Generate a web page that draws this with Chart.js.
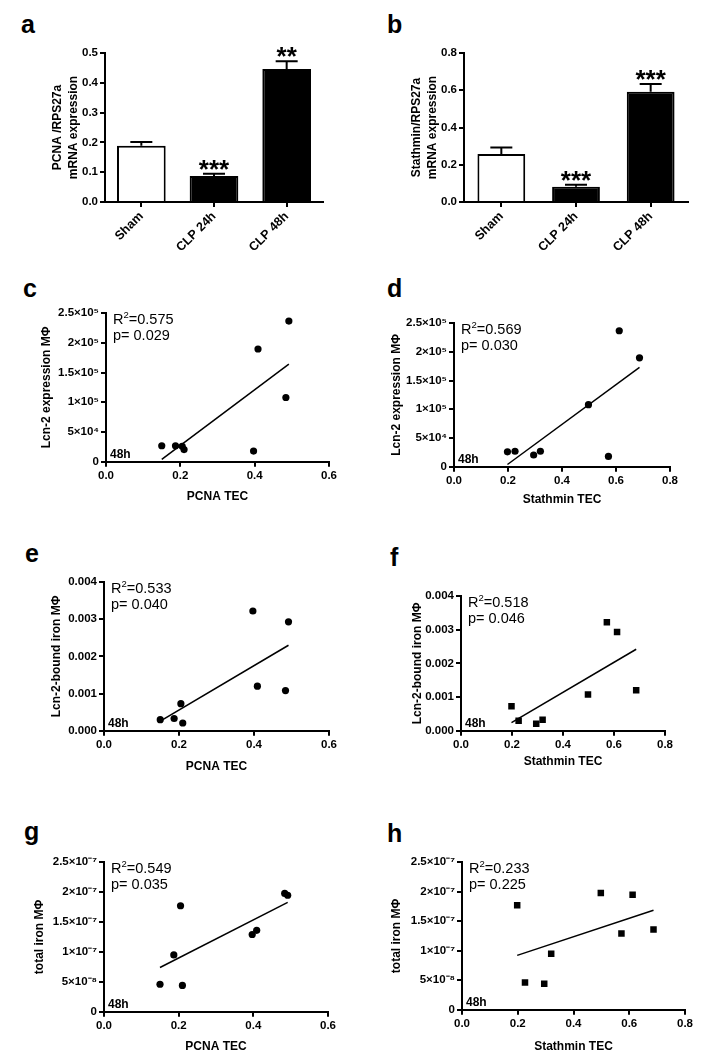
<!DOCTYPE html>
<html>
<head>
<meta charset="utf-8">
<script src="https://cdn.jsdelivr.net/npm/chart.js@4.4.0/dist/chart.umd.min.js"></script>
<style>
  body { margin: 0; background: #fff; width: 715px; height: 1063px; position: relative; overflow: hidden; }
  canvas { position: absolute; }
  .lbl { position: absolute; font: bold 25px "Liberation Sans", Arial, sans-serif; line-height: 1; color: #000; }
</style>
</head>
<body>
<div class="lbl" style="left:21px;top:12px">a</div>
<div class="lbl" style="left:387px;top:12px">b</div>
<div class="lbl" style="left:23px;top:276px">c</div>
<div class="lbl" style="left:387px;top:276px">d</div>
<div class="lbl" style="left:25px;top:541px">e</div>
<div class="lbl" style="left:390px;top:545px">f</div>
<div class="lbl" style="left:24px;top:819px">g</div>
<div class="lbl" style="left:387px;top:821px">h</div>

<canvas id="cA"></canvas>
<canvas id="cB"></canvas>
<canvas id="cC"></canvas>
<canvas id="cD"></canvas>
<canvas id="cE"></canvas>
<canvas id="cF"></canvas>
<canvas id="cG"></canvas>
<canvas id="cH"></canvas>

<script>
//-- bar panels (a, b) ---->
var groups = ['Sham', 'CLP 24h', 'CLP 48h'];
var pcnaMean = [0.189, 0.087, 0.446];
var pcnaSem = [0.012, 0.008, 0.026];
var pcnaStars = ['', '***', '**'];
var stathMean = [0.258, 0.082, 0.592];
var stathSem = [0.034, 0.010, 0.042];
var stathStars = ['', '***', '***'];

//-- 48h animals, same order in every scatter ---->
var pcnaTEC = [0.150, 0.187, 0.205, 0.210, 0.397, 0.409, 0.484, 0.492];
var stathminTEC = [0.226, 0.320, 0.198, 0.295, 0.572, 0.687, 0.498, 0.612];
var lcn2Expr = [27000, 27000, 26000, 20500, 18000, 189500, 108000, 236500];
var lcn2Iron = [0.00030, 0.00033, 0.00073, 0.00021, 0.00322, 0.00120, 0.00108, 0.00293];
var totalIron = [4.6e-8, 9.5e-8, 1.77e-7, 4.4e-8, 1.29e-7, 1.36e-7, 1.975e-7, 1.945e-7];

//-- ticks ---->
var pcnaTicks = [0, 0.2, 0.4, 0.6];
var stathTicks = [0, 0.2, 0.4, 0.6, 0.8];
var lcn2Ticks = [0, 5e4, 1e5, 1.5e5, 2e5, 2.5e5];
var lcn2Labels = ['0', '5\u00d710\u2074', '1\u00d710\u2075', '1.5\u00d710\u2075', '2\u00d710\u2075', '2.5\u00d710\u2075'];
var boundTicks = [0, 0.001, 0.002, 0.003, 0.004];
var boundLabels = ['0.000', '0.001', '0.002', '0.003', '0.004'];
var ironTicks = [0, 5e-8, 1e-7, 1.5e-7, 2e-7, 2.5e-7];
var ironLabels = ['0', '5\u00d710\u207b\u2078', '1\u00d710\u207b\u2077', '1.5\u00d710\u207b\u2077', '2\u00d710\u207b\u2077', '2.5\u00d710\u207b\u2077'];

//-- regression lines ---->
var fitC = [[0.150, 4000], [0.492, 164000]];
var fitD = [[0.198, 4000], [0.687, 173000]];
var fitE = [[0.150, 0.00026], [0.492, 0.00230]];
var fitF = [[0.198, 0.00024], [0.687, 0.00242]];
var fitG = [[0.150, 7.4e-8], [0.492, 1.825e-7]];
var fitH = [[0.198, 9.2e-8], [0.687, 1.685e-7]];

var statsC = ['0.575', '0.029'];
var statsD = ['0.569', '0.030'];
var statsE = ['0.533', '0.040'];
var statsF = ['0.518', '0.046'];
var statsG = ['0.549', '0.035'];
var statsH = ['0.233', '0.225'];

var FAM = '"Liberation Sans", Arial, sans-serif';
Chart.defaults.font.family = FAM;
Chart.defaults.color = '#000';

//-- put a canvas so the plot area lands on the box ---->
function place(cv, box, xH, padR) {
    cv.width = 100 + (box.x1 - box.x0) + padR;
    cv.height = 12 + (box.y1 - box.y0) + xH + 2;
    cv.style.left = (box.x0 - 100) + 'px';
    cv.style.top = (box.y0 - 12) + 'px';
}

function axisGrid() {
    return { display: true, drawOnChartArea: false, color: '#000', lineWidth: 2, tickLength: 5 };
}

//-------------------------------- bar chart with error bars ---->
function barPanel(id, box, yMax, yStep, yTitle, mean, sem, stars, barPct) {
    var cv = document.getElementById(id);
    place(cv, box, 60, 10);
    var errBars = {
        id: 'errBars',
        afterDatasetsDraw: function (chart) {
            var ctx = chart.ctx, y = chart.scales.y;
            var bars = chart.getDatasetMeta(0).data;
            ctx.save();
            ctx.strokeStyle = '#000';
            ctx.fillStyle = '#000';
            ctx.lineWidth = 2;
            bars.forEach(function (bar, i) {
                var top = y.getPixelForValue(mean[i] + sem[i]);
                ctx.beginPath();
                ctx.moveTo(bar.x, bar.y);
                ctx.lineTo(bar.x, top);
                ctx.moveTo(bar.x - 11, top);
                ctx.lineTo(bar.x + 11, top);
                ctx.stroke();
                if (stars[i]) {
                    ctx.font = 'bold 26px ' + FAM;
                    ctx.textAlign = 'center';
                    ctx.textBaseline = 'alphabetic';
                    // glyph bottom sits a few px above the cap
                    var m = ctx.measureText(stars[i]);
                    ctx.fillText(stars[i], bar.x, top - 4 - m.actualBoundingBoxDescent);
                }
            });
            ctx.restore();
        }
    };
    new Chart(cv, {
        type: 'bar',
        data: {
            labels: groups,
            datasets: [{
                data: mean,
                backgroundColor: ['#ffffff', '#000000', '#000000'],
                borderColor: '#000',
                borderWidth: 2,
                barPercentage: barPct,
                categoryPercentage: 1
            }]
        },
        options: {
            responsive: false,
            animation: false,
            layout: { padding: { top: 12, right: 10, bottom: 2, left: 0 } },
            plugins: { legend: { display: false }, tooltip: { enabled: false } },
            scales: {
                x: {
                    grid: Object.assign(axisGrid(), { offset: false }),
                    border: { color: '#000', width: 2 },
                    ticks: { font: { size: 12.5, weight: 'bold' }, minRotation: 45, maxRotation: 45, padding: 2 },
                    afterFit: function (s) { s.height = 60; }
                },
                y: {
                    min: 0, max: yMax,
                    grid: axisGrid(),
                    border: { color: '#000', width: 2 },
                    ticks: { stepSize: yStep, font: { size: 11.5, weight: 'bold' }, padding: 2,
                        callback: function (v) { return v.toFixed(1); } },
                    title: { display: true, text: yTitle, font: { size: 12, weight: 'bold', lineHeight: '16px' },
                        padding: { top: 45, bottom: 0 } },
                    afterFit: function (s) { s.width = 100; }
                }
            }
        },
        plugins: [errBars]
    });
}

//-------------------------------- scatter with fit line ---->
function scatterPanel(id, box, c) {
    var cv = document.getElementById(id);
    var xH = c.xGap + 7.2;
    place(cv, box, xH, 14);
    var notes = {
        id: 'notes',
        afterDraw: function (chart) {
            var a = chart.chartArea, ctx = chart.ctx;
            var x = a.left + 7, base = a.top + 11;
            ctx.save();
            ctx.fillStyle = '#000';
            ctx.textAlign = 'left';
            ctx.textBaseline = 'alphabetic';
            ctx.font = '14.5px ' + FAM;
            ctx.fillText('R', x, base);
            x += ctx.measureText('R').width;
            ctx.font = '9.5px ' + FAM;
            ctx.fillText('2', x, base - 6);
            x += ctx.measureText('2').width;
            ctx.font = '14.5px ' + FAM;
            ctx.fillText('=' + c.stats[0], x, base);
            ctx.fillText('p= ' + c.stats[1], a.left + 7, a.top + 27);
            ctx.font = 'bold 12px ' + FAM;
            ctx.fillText('48h', a.left + 4, a.bottom - 4);
            ctx.restore();
        }
    };
    var pts = c.xs.map(function (x, i) { return { x: x, y: c.ys[i] }; });
    var line = c.fit.map(function (p) { return { x: p[0], y: p[1] }; });
    var yPad = 100 - c.yGap - 7.2;
    new Chart(cv, {
        type: 'scatter',
        data: {
            datasets: [{
                data: pts,
                pointStyle: c.square ? 'rect' : 'circle',
                pointRadius: c.square ? 4.6 : 3.6,
                backgroundColor: '#000',
                borderColor: '#000',
                borderWidth: 0
            }, {
                data: line,
                showLine: true,
                borderColor: '#000',
                borderWidth: 1.5,
                pointRadius: 0
            }]
        },
        options: {
            responsive: false,
            animation: false,
            layout: { padding: { top: 12, right: 14, bottom: 2, left: 0 } },
            plugins: { legend: { display: false }, tooltip: { enabled: false } },
            scales: {
                x: {
                    type: 'linear', min: 0, max: c.xTicks[c.xTicks.length - 1],
                    grid: axisGrid(),
                    border: { color: '#000', width: 2 },
                    afterBuildTicks: function (s) { s.ticks = c.xTicks.map(function (v) { return { value: v }; }); },
                    ticks: { font: { size: 11.5, weight: 'bold' }, padding: 2,
                        callback: function (v) { return v.toFixed(1); } },
                    title: { display: true, text: c.xTitle, font: { size: 12, weight: 'bold' }, padding: 0 },
                    afterFit: function (s) { s.height = xH; }
                },
                y: {
                    type: 'linear', min: 0, max: c.yTicks[c.yTicks.length - 1],
                    grid: axisGrid(),
                    border: { color: '#000', width: 2 },
                    afterBuildTicks: function (s) { s.ticks = c.yTicks.map(function (v) { return { value: v }; }); },
                    ticks: { font: { size: 11.5, weight: 'bold' }, padding: 2,
                        callback: function (v, i) { return c.yLabels[i]; } },
                    title: { display: true, text: c.yTitle, font: { size: 12, weight: 'bold' }, padding: { top: yPad, bottom: 0 } },
                    afterFit: function (s) { s.width = 100; }
                }
            }
        },
        plugins: [notes]
    });
}

barPanel('cA', { x0: 105, y0: 53, x1: 323, y1: 202 }, 0.5, 0.1,
    ['PCNA /RPS27a', 'mRNA expression'], pcnaMean, pcnaSem, pcnaStars, 0.67);
barPanel('cB', { x0: 464, y0: 53, x1: 688, y1: 202 }, 0.8, 0.2,
    ['Stathmin/RPS27a', 'mRNA expression'], stathMean, stathSem, stathStars, 0.64);

scatterPanel('cC', { x0: 106, y0: 313, x1: 329, y1: 462 }, {
    xs: pcnaTEC, ys: lcn2Expr, xTicks: pcnaTicks, yTicks: lcn2Ticks, yLabels: lcn2Labels,
    xTitle: 'PCNA TEC', yTitle: 'Lcn-2 expression M\u03a6', fit: fitC, stats: statsC, xGap: 35, yGap: 59 });
scatterPanel('cD', { x0: 454, y0: 323, x1: 670, y1: 467 }, {
    xs: stathminTEC, ys: lcn2Expr, xTicks: stathTicks, yTicks: lcn2Ticks, yLabels: lcn2Labels,
    xTitle: 'Stathmin TEC', yTitle: 'Lcn-2 expression M\u03a6', fit: fitD, stats: statsD, xGap: 33, yGap: 57 });
scatterPanel('cE', { x0: 104, y0: 582, x1: 329, y1: 731 }, {
    xs: pcnaTEC, ys: lcn2Iron, xTicks: pcnaTicks, yTicks: boundTicks, yLabels: boundLabels,
    xTitle: 'PCNA TEC', yTitle: 'Lcn-2-bound iron M\u03a6', fit: fitE, stats: statsE, xGap: 36, yGap: 47 });
scatterPanel('cF', { x0: 461, y0: 596, x1: 665, y1: 731 }, {
    xs: stathminTEC, ys: lcn2Iron, xTicks: stathTicks, yTicks: boundTicks, yLabels: boundLabels,
    xTitle: 'Stathmin TEC', yTitle: 'Lcn-2-bound iron M\u03a6', fit: fitF, stats: statsF, xGap: 31, yGap: 43, square: true });
scatterPanel('cG', { x0: 104, y0: 862, x1: 328, y1: 1012 }, {
    xs: pcnaTEC, ys: totalIron, xTicks: pcnaTicks, yTicks: ironTicks, yLabels: ironLabels,
    xTitle: 'PCNA TEC', yTitle: 'total iron M\u03a6', fit: fitG, stats: statsG, xGap: 35, yGap: 64 });
scatterPanel('cH', { x0: 462, y0: 862, x1: 685, y1: 1010 }, {
    xs: stathminTEC, ys: totalIron, xTicks: stathTicks, yTicks: ironTicks, yLabels: ironLabels,
    xTitle: 'Stathmin TEC', yTitle: 'total iron M\u03a6', fit: fitH, stats: statsH, xGap: 37, yGap: 65, square: true });
</script>
</body>
</html>
